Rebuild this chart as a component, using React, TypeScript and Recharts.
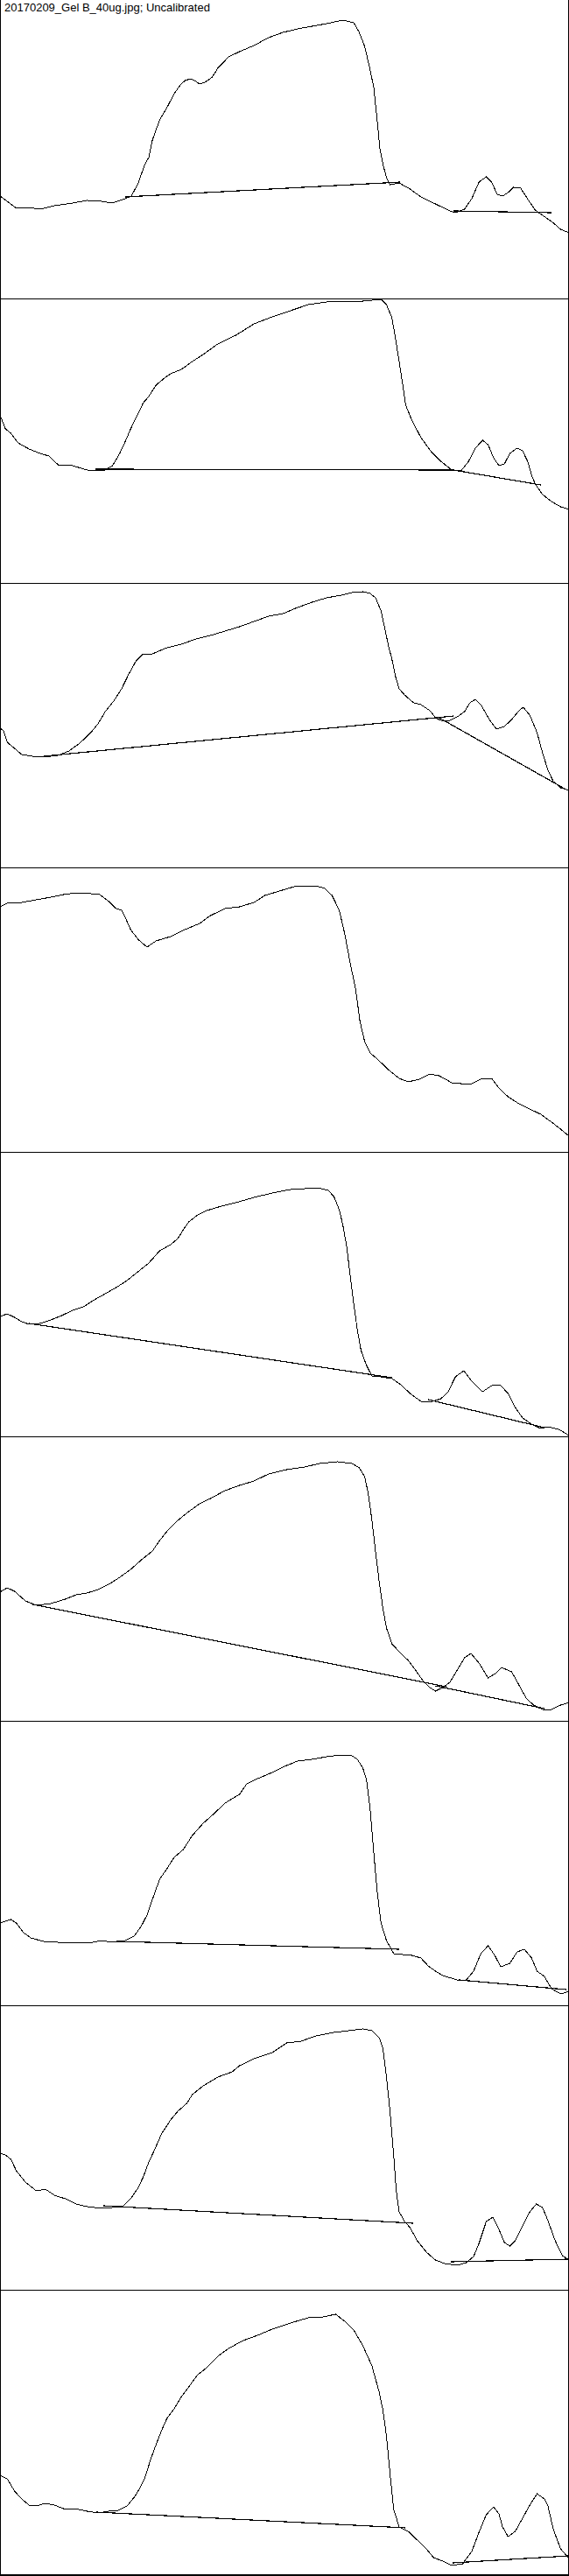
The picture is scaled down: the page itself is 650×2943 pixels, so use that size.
import React from 'react';
import { LineChart, Line, XAxis, YAxis, ReferenceLine } from 'recharts';

const TITLE = '20170209_Gel B_40ug.jpg; Uncalibrated';
const X_MAX = 1568;
const Y_MAX = 325;

const lane1: [number, number][] = [[0,117],[20,111],[45,103],[80,104],[110,102],[150,106],[200,109],[240,112],[280,111],[310,109],[345,114],[362,117],[380,131],[400,154],[410,161],[420,181],[440,204],[460,218],[480,234],[497,244],[510,249],[525,251],[540,248],[550,245],[565,247],[585,253],[600,263],[630,276],[660,282],[700,289],[740,298],[780,304],[820,308],[860,311],[900,314],[945,318],[975,315],[990,304],[1005,288],[1020,261],[1030,241],[1040,201],[1047,171],[1055,154],[1065,138],[1075,130],[1100,132],[1130,125],[1160,116],[1200,108],[1240,100],[1255,98],[1280,102],[1300,114],[1320,133],[1340,139],[1355,133],[1370,119],[1385,117],[1400,121],[1415,127],[1435,126],[1455,113],[1475,101],[1495,95],[1520,88],[1545,79],[1568,75]];
const lane2: [number, number][] = [[0,192],[15,176],[30,171],[50,160],[80,153],[110,148],[135,145],[160,135],[200,134],[240,129],[260,128],[290,129],[310,134],[330,148],[350,166],[360,176],[380,193],[395,206],[410,213],[430,226],[450,233],[470,239],[500,244],[530,253],[560,261],[600,273],[650,283],[700,296],[750,304],[800,311],[850,318],[900,321],[950,322],[1000,322],[1050,324],[1065,318],[1080,303],[1090,279],[1100,253],[1110,226],[1118,203],[1135,186],[1160,166],[1190,149],[1215,139],[1245,129],[1270,128],[1290,138],[1310,154],[1330,163],[1345,158],[1360,143],[1375,134],[1390,136],[1405,148],[1425,154],[1440,151],[1455,138],[1465,123],[1475,113],[1495,101],[1520,93],[1545,87],[1568,84]];
const lane3: [number, number][] = [[0,159],[10,156],[20,143],[40,136],[60,129],[90,127],[120,126],[160,128],[190,133],[220,142],[250,154],[270,164],[290,178],[315,191],[335,204],[355,221],[375,236],[392,243],[420,244],[460,251],[500,255],[540,261],[580,265],[620,270],[660,275],[700,281],[740,287],[780,290],[820,297],[860,303],[900,308],[940,311],[970,314],[1000,315],[1020,313],[1035,308],[1050,293],[1060,274],[1070,254],[1080,238],[1090,218],[1100,204],[1115,197],[1140,188],[1160,186],[1185,179],[1200,171],[1215,168],[1240,168],[1260,172],[1280,178],[1295,188],[1310,192],[1325,186],[1350,168],[1368,158],[1390,161],[1410,169],[1430,179],[1442,183],[1460,174],[1480,154],[1495,131],[1510,111],[1525,98],[1545,91],[1568,88]];
const lane4: [number, number][] = [[0,280],[20,284],[60,285],[100,288],[140,291],[175,294],[210,296],[250,295],[275,294],[300,286],[320,278],[335,276],[345,268],[360,254],[380,243],[405,234],[430,241],[470,246],[510,254],[550,261],[580,270],[620,278],[660,280],[700,285],[730,293],[770,298],[810,303],[850,304],[870,304],[895,301],[915,293],[935,276],[950,249],[965,216],[980,186],[992,149],[1005,126],[1020,113],[1040,106],[1070,94],[1100,84],[1125,80],[1155,83],[1185,89],[1210,87],[1245,79],[1270,78],[1300,78],[1325,83],[1355,84],[1375,73],[1400,63],[1430,55],[1460,49],[1490,43],[1520,34],[1545,26],[1568,18]];
const lane5: [number, number][] = [[0,137],[20,140],[40,136],[60,131],[80,128],[110,129],[140,133],[170,138],[200,144],[230,148],[260,156],[290,163],[320,170],[350,178],[380,188],[410,198],[440,212],[470,219],[490,226],[505,236],[520,245],[545,253],[570,258],[610,263],[650,267],[700,273],[750,278],[800,282],[840,283],[875,284],[905,281],[920,274],[935,259],[945,241],[955,218],[965,184],[975,151],[985,121],[995,98],[1010,81],[1025,69],[1050,68],[1080,66],[1105,59],[1130,49],[1160,40],[1185,39],[1215,43],[1235,51],[1255,68],[1278,75],[1300,63],[1330,51],[1355,58],[1378,59],[1400,49],[1420,33],[1440,21],[1465,14],[1490,9],[1510,11],[1540,8],[1568,1]];
const lane6: [number, number][] = [[0,147],[20,152],[40,148],[70,137],[100,132],[140,134],[180,139],[210,144],[240,146],[270,150],[300,156],[330,164],[360,173],[390,184],[420,194],[440,206],[465,219],[490,229],[520,239],[550,248],[580,254],[620,263],[660,269],[700,274],[740,282],[790,287],[840,290],[880,294],[930,296],[970,294],[990,289],[1005,279],[1015,259],[1025,229],[1035,193],[1045,159],[1055,129],[1065,106],[1080,88],[1100,79],[1125,69],[1145,58],[1165,46],[1185,38],[1200,34],[1220,38],[1240,44],[1260,58],[1280,72],[1298,77],[1320,66],[1345,49],[1365,54],[1382,61],[1410,56],[1430,41],[1450,26],[1470,18],[1495,13],[1520,13],[1545,18],[1568,21]];
const lane7: [number, number][] = [[0,94],[15,96],[30,98],[45,94],[65,83],[85,77],[120,73],[160,72],[200,72],[245,71],[280,74],[310,72],[345,74],[370,79],[390,91],[405,103],[420,121],[440,144],[460,156],[480,169],[505,178],[530,194],[560,208],[590,219],[620,231],[660,241],[680,253],[710,259],[750,266],[790,274],[820,279],[860,281],[900,284],[940,286],[970,285],[985,281],[1000,271],[1010,258],[1020,224],[1030,174],[1040,128],[1050,94],[1065,74],[1085,59],[1110,58],[1135,57],[1160,54],[1180,45],[1200,39],[1220,34],[1260,29],[1285,29],[1305,39],[1325,59],[1345,68],[1362,58],[1380,44],[1405,48],[1425,61],[1445,64],[1465,54],[1480,39],[1500,33],[1520,19],[1545,13],[1568,16]];
const lane8: [number, number][] = [[0,156],[15,154],[30,149],[45,136],[70,123],[100,113],[125,115],[150,108],[180,104],[210,98],[240,95],[280,93],[310,94],[340,96],[360,104],[380,116],[395,129],[410,146],[425,159],[445,178],[470,194],[490,204],[515,213],[530,223],[560,233],[600,243],[640,249],[660,256],[700,264],[750,271],[790,282],[830,284],[870,290],[920,294],[960,296],[1000,298],[1025,296],[1045,288],[1055,276],[1065,243],[1075,203],[1085,153],[1092,113],[1100,89],[1115,78],[1130,71],[1150,56],[1175,43],[1200,34],[1225,30],[1260,28],[1285,31],[1305,38],[1320,53],[1340,78],[1358,83],[1375,69],[1390,54],[1405,50],[1420,56],[1440,73],[1460,89],[1478,98],[1495,94],[1510,79],[1530,56],[1550,39],[1568,34]];
const lane9: [number, number][] = [[0,113],[20,109],[40,95],[60,86],[80,79],[100,78],[125,81],[150,79],[175,75],[205,75],[240,72],[270,70],[300,72],[325,73],[350,78],[370,88],[385,98],[400,111],[415,131],[430,148],[445,164],[460,178],[480,189],[500,203],[520,214],[545,228],[570,236],[600,249],[630,258],[670,267],[710,273],[750,280],[800,287],[850,293],[890,294],[925,297],[950,289],[975,279],[1000,261],[1025,238],[1045,208],[1055,188],[1065,158],[1075,114],[1085,74],[1100,54],[1125,49],[1150,39],[1175,29],[1195,19],[1220,15],[1245,10],[1275,12],[1300,26],[1320,48],[1340,68],[1360,77],[1375,69],[1385,54],[1400,43],[1420,49],[1440,64],[1460,79],[1480,92],[1500,86],[1510,78],[1525,51],[1545,29],[1568,18]];

const baselines1: number[][] = [[345,116,1103,133],[1250,100,1520,98]];
const baselines2: number[][] = [[262,130,1250,129],[1250,129,1490,112]];
const baselines3: number[][] = [[120,127,1250,173],[1210,171,1560,89]];
const baselines4: number[][] = [];
const baselines5: number[][] = [[80,129,1080,67],[1180,42,1500,10]];
const baselines6: number[][] = [[90,133,1230,39],[1200,40,1500,14]];
const baselines7: number[][] = [[320,73,1100,64],[1265,29,1560,18]];
const baselines8: number[][] = [[285,96,1138,76],[1243,32,1568,35]];
const baselines9: number[][] = [[265,71,1118,53],[1248,13,1568,21]];

const lanes = [lane1, lane2, lane3, lane4, lane5, lane6, lane7, lane8, lane9];
const laneBaselines = [baselines1, baselines2, baselines3, baselines4, baselines5, baselines6, baselines7, baselines8, baselines9];

const W = 650;
const PANEL_H = 325;
const TOP = 16;
const TOTAL_H = 2943;

function Lane({ points, baselines }: { points: [number, number][]; baselines: number[][] }) {
  const data = points.map(([x, y]) => ({ x, y }));
  return (
    <LineChart width={W} height={PANEL_H} data={data} margin={{ top: 0, right: 0, bottom: 0, left: 0 }}>
      <XAxis type="number" dataKey="x" domain={[0, X_MAX]} hide allowDataOverflow />
      <YAxis type="number" domain={[0, Y_MAX]} hide allowDataOverflow />
      <Line
        type="linear"
        dataKey="y"
        stroke="#000"
        strokeWidth={1}
        dot={false}
        activeDot={false}
        isAnimationActive={false}
        shapeRendering="crispEdges"
      />
      {baselines.map((b, i) => (
        <ReferenceLine
          key={i}
          segment={[{ x: b[0], y: b[1] }, { x: b[2], y: b[3] }]}
          stroke="#000"
          strokeWidth={1.2}
          ifOverflow="visible"
          shapeRendering="crispEdges"
        />
      ))}
    </LineChart>
  );
}

export default function App() {
  return (
    <div style={{ position: 'absolute', left: 0, top: 0, width: W, height: TOTAL_H, background: '#fff', overflow: 'hidden' }}>
      {lanes.map((pts, k) => (
        <div key={k} style={{ position: 'absolute', left: 0, top: TOP + PANEL_H * k, width: W, height: PANEL_H }}>
          <Lane points={pts} baselines={laneBaselines[k]} />
        </div>
      ))}
      {lanes.map((_, k) => (
        <div
          key={'h' + k}
          style={{ position: 'absolute', left: 0, top: TOP + PANEL_H * (k + 1), width: W, height: k === lanes.length - 1 ? 2 : 1, background: '#000' }}
        />
      ))}
      <div style={{ position: 'absolute', left: 0, top: 0, width: 1, height: TOTAL_H, background: '#000' }} />
      <div style={{ position: 'absolute', left: W - 1, top: 0, width: 1, height: TOTAL_H, background: '#000' }} />
      <div
        style={{
          position: 'absolute',
          left: 5,
          top: 2,
          fontFamily: '"Liberation Sans", Arial, sans-serif',
          fontSize: 13,
          lineHeight: '13px',
          color: '#000',
          whiteSpace: 'nowrap',
        }}
      >
        {TITLE}
      </div>
    </div>
  );
}
